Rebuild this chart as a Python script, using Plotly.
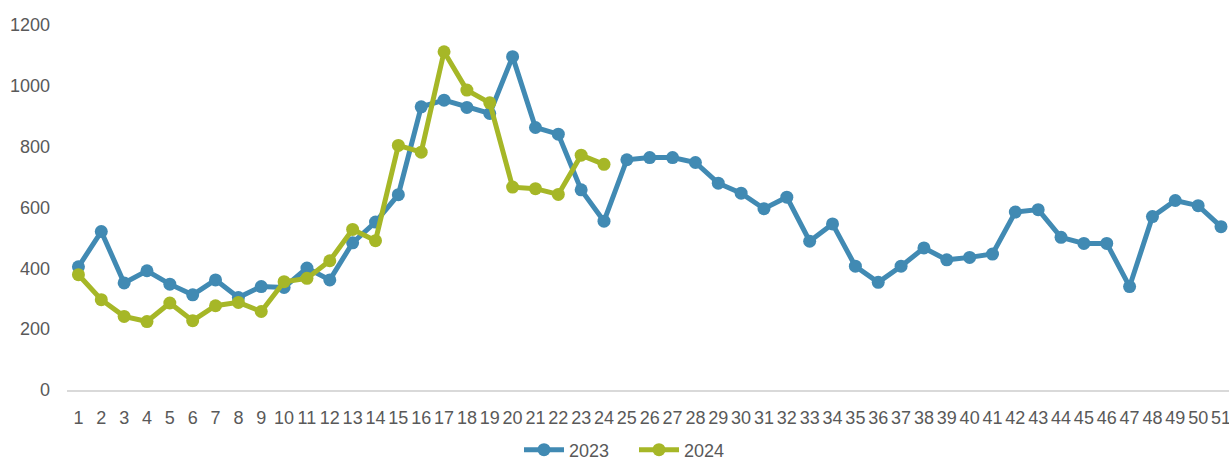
import plotly.graph_objects as go

weeks = list(range(1, 52))
week_labels = [str(w) for w in weeks]

values_2023 = [405, 521, 352, 392, 348, 313, 362, 304, 340, 337,
               401, 362, 484, 552, 642, 931, 953, 929, 909, 1096,
               863, 841, 658, 555, 757, 764, 764, 748, 680, 647,
               596, 634, 489, 546, 407, 354, 407, 467, 428, 436,
               447, 585, 593, 502, 482, 482, 340, 570, 623, 606, 537]

values_2024 = [379, 297, 242, 225, 286, 228, 277, 288, 258, 356,
               367, 425, 528, 491, 804, 782, 1112, 986, 944, 667,
               662, 643, 772, 742]

y_ticks = [0, 200, 400, 600, 800, 1000, 1200]

BLUE = "#418AB3"
GREEN = "#A6B727"
TEXT = "#595959"
FONT = "Liberation Sans Narrow, Arial Narrow, Liberation Sans, Arial, sans-serif"

fig = go.Figure()
fig.add_trace(go.Scatter(
    x=weeks, y=values_2023, name="2023", mode="lines+markers",
    line=dict(color=BLUE, width=5), marker=dict(color=BLUE, size=13),
    cliponaxis=False,
))
fig.add_trace(go.Scatter(
    x=weeks[:len(values_2024)], y=values_2024, name="2024", mode="lines+markers",
    line=dict(color=GREEN, width=5), marker=dict(color=GREEN, size=13),
    cliponaxis=False,
))

fig.update_layout(
    width=1229, height=459,
    margin=dict(l=67, r=0, t=25, b=69, autoexpand=False),
    paper_bgcolor="white", plot_bgcolor="white",
    font=dict(family=FONT, size=18, color=TEXT),
    showlegend=True,
    legend=dict(orientation="h", x=519 / 1229, xanchor="left", xref="container",
                y=1 - 450 / 459, yref="container", yanchor="middle",
                font=dict(family=FONT, size=18, color=TEXT),
                itemwidth=40, entrywidth=60, entrywidthmode="pixels"),
)
fig.update_xaxes(
    range=[0.5, 51.35], tickmode="array", tickvals=weeks, ticktext=week_labels,
    showgrid=False, zeroline=False, showline=True, linecolor="#D9D9D9", linewidth=2,
    ticks="", ticklabelstandoff=10, tickangle=0, ticklabeloverflow="allow",
    tickfont=dict(family=FONT, size=18, color=TEXT),
)
fig.update_yaxes(
    range=[0, 1200], tickmode="array", tickvals=y_ticks,
    showgrid=False, zeroline=False, showline=False, ticks="",
    ticklabelstandoff=16,
    tickfont=dict(family=FONT, size=18, color=TEXT),
)

post = ("document.documentElement.style.margin='0';"
        "document.body.style.margin='0';"
        "document.body.style.overflow='hidden';")
fig.write_html("out.html", post_script=post, config={"displayModeBar": False})
